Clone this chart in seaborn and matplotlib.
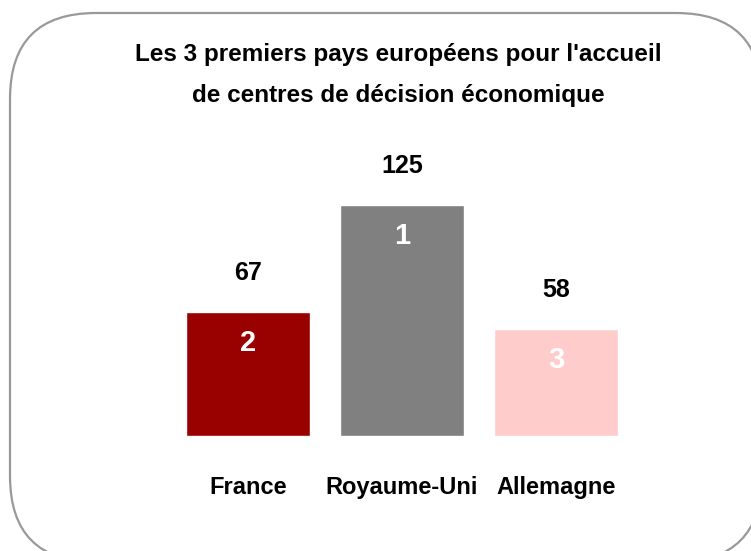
import pandas as pd
import seaborn as sns
import matplotlib.pyplot as plt
from matplotlib.patches import FancyBboxPatch

# Données
pays = ["France", "Royaume-Uni", "Allemagne"]
centres = [67, 125, 58]
rangs = ["2", "1", "3"]
couleurs = ["#990000", "#808080", "#FFCCCC"]

titre = "Les 3 premiers pays européens pour l'accueil\nde centres de décision économique"

df = pd.DataFrame({"pays": pays, "centres": centres})

sns.set_style("white")
plt.rcParams["font.family"] = ["Liberation Sans Narrow", "Liberation Sans", "DejaVu Sans"]
plt.rcParams["text.color"] = "black"
plt.rcParams["xtick.color"] = "black"

fig = plt.figure(figsize=(7.51, 5.51), dpi=100)

# Cadre arrondi (coordonnées en pixels)
bg = fig.add_axes([0, 0, 1, 1])
bg.set_xlim(0, 751)
bg.set_ylim(551, 0)
bg.axis("off")
cadre = FancyBboxPatch((10, 13), 752, 549,
                       boxstyle="round,pad=0,rounding_size=86",
                       facecolor="white", edgecolor="#999999", linewidth=1.6)
bg.add_patch(cadre)

fig.text(0.53, 1 - 75 / 551, titre, ha="center", va="center", fontsize=17.5,
         fontweight="bold", linespacing=1.95)

# Graphique
ax = fig.add_axes([0, 1 - 436 / 551, 1, (436 - 140) / 551])
sns.barplot(data=df, x="pays", y="centres", hue="pays", palette=couleurs,
            width=0.81, legend=False, saturation=1, ax=ax)
ax.set_xlim(-248 / 154, (751 - 248) / 154)
ax.set_ylim(0, (436 - 140) / 1.845)
ax.patch.set_alpha(0)
sns.despine(ax=ax, left=True, bottom=True)
ax.set_yticks([])
ax.set_xlabel("")
ax.set_ylabel("")
ax.tick_params(axis="x", length=0, pad=29)
for lbl in ax.get_xticklabels():
    lbl.set_fontsize(17)
    lbl.set_fontweight("bold")

for i, (v, r) in enumerate(zip(centres, rangs)):
    ax.annotate(str(v), (i, v), xytext=(0, 28), textcoords="offset points",
                ha="center", va="center", fontsize=18, fontweight="bold")
    ax.annotate(r, (i, v), xytext=(0, -22), textcoords="offset points",
                ha="center", va="center", fontsize=21, fontweight="bold",
                color="white", family=["Liberation Sans", "DejaVu Sans"])

fig.savefig("out.png", dpi=100)
